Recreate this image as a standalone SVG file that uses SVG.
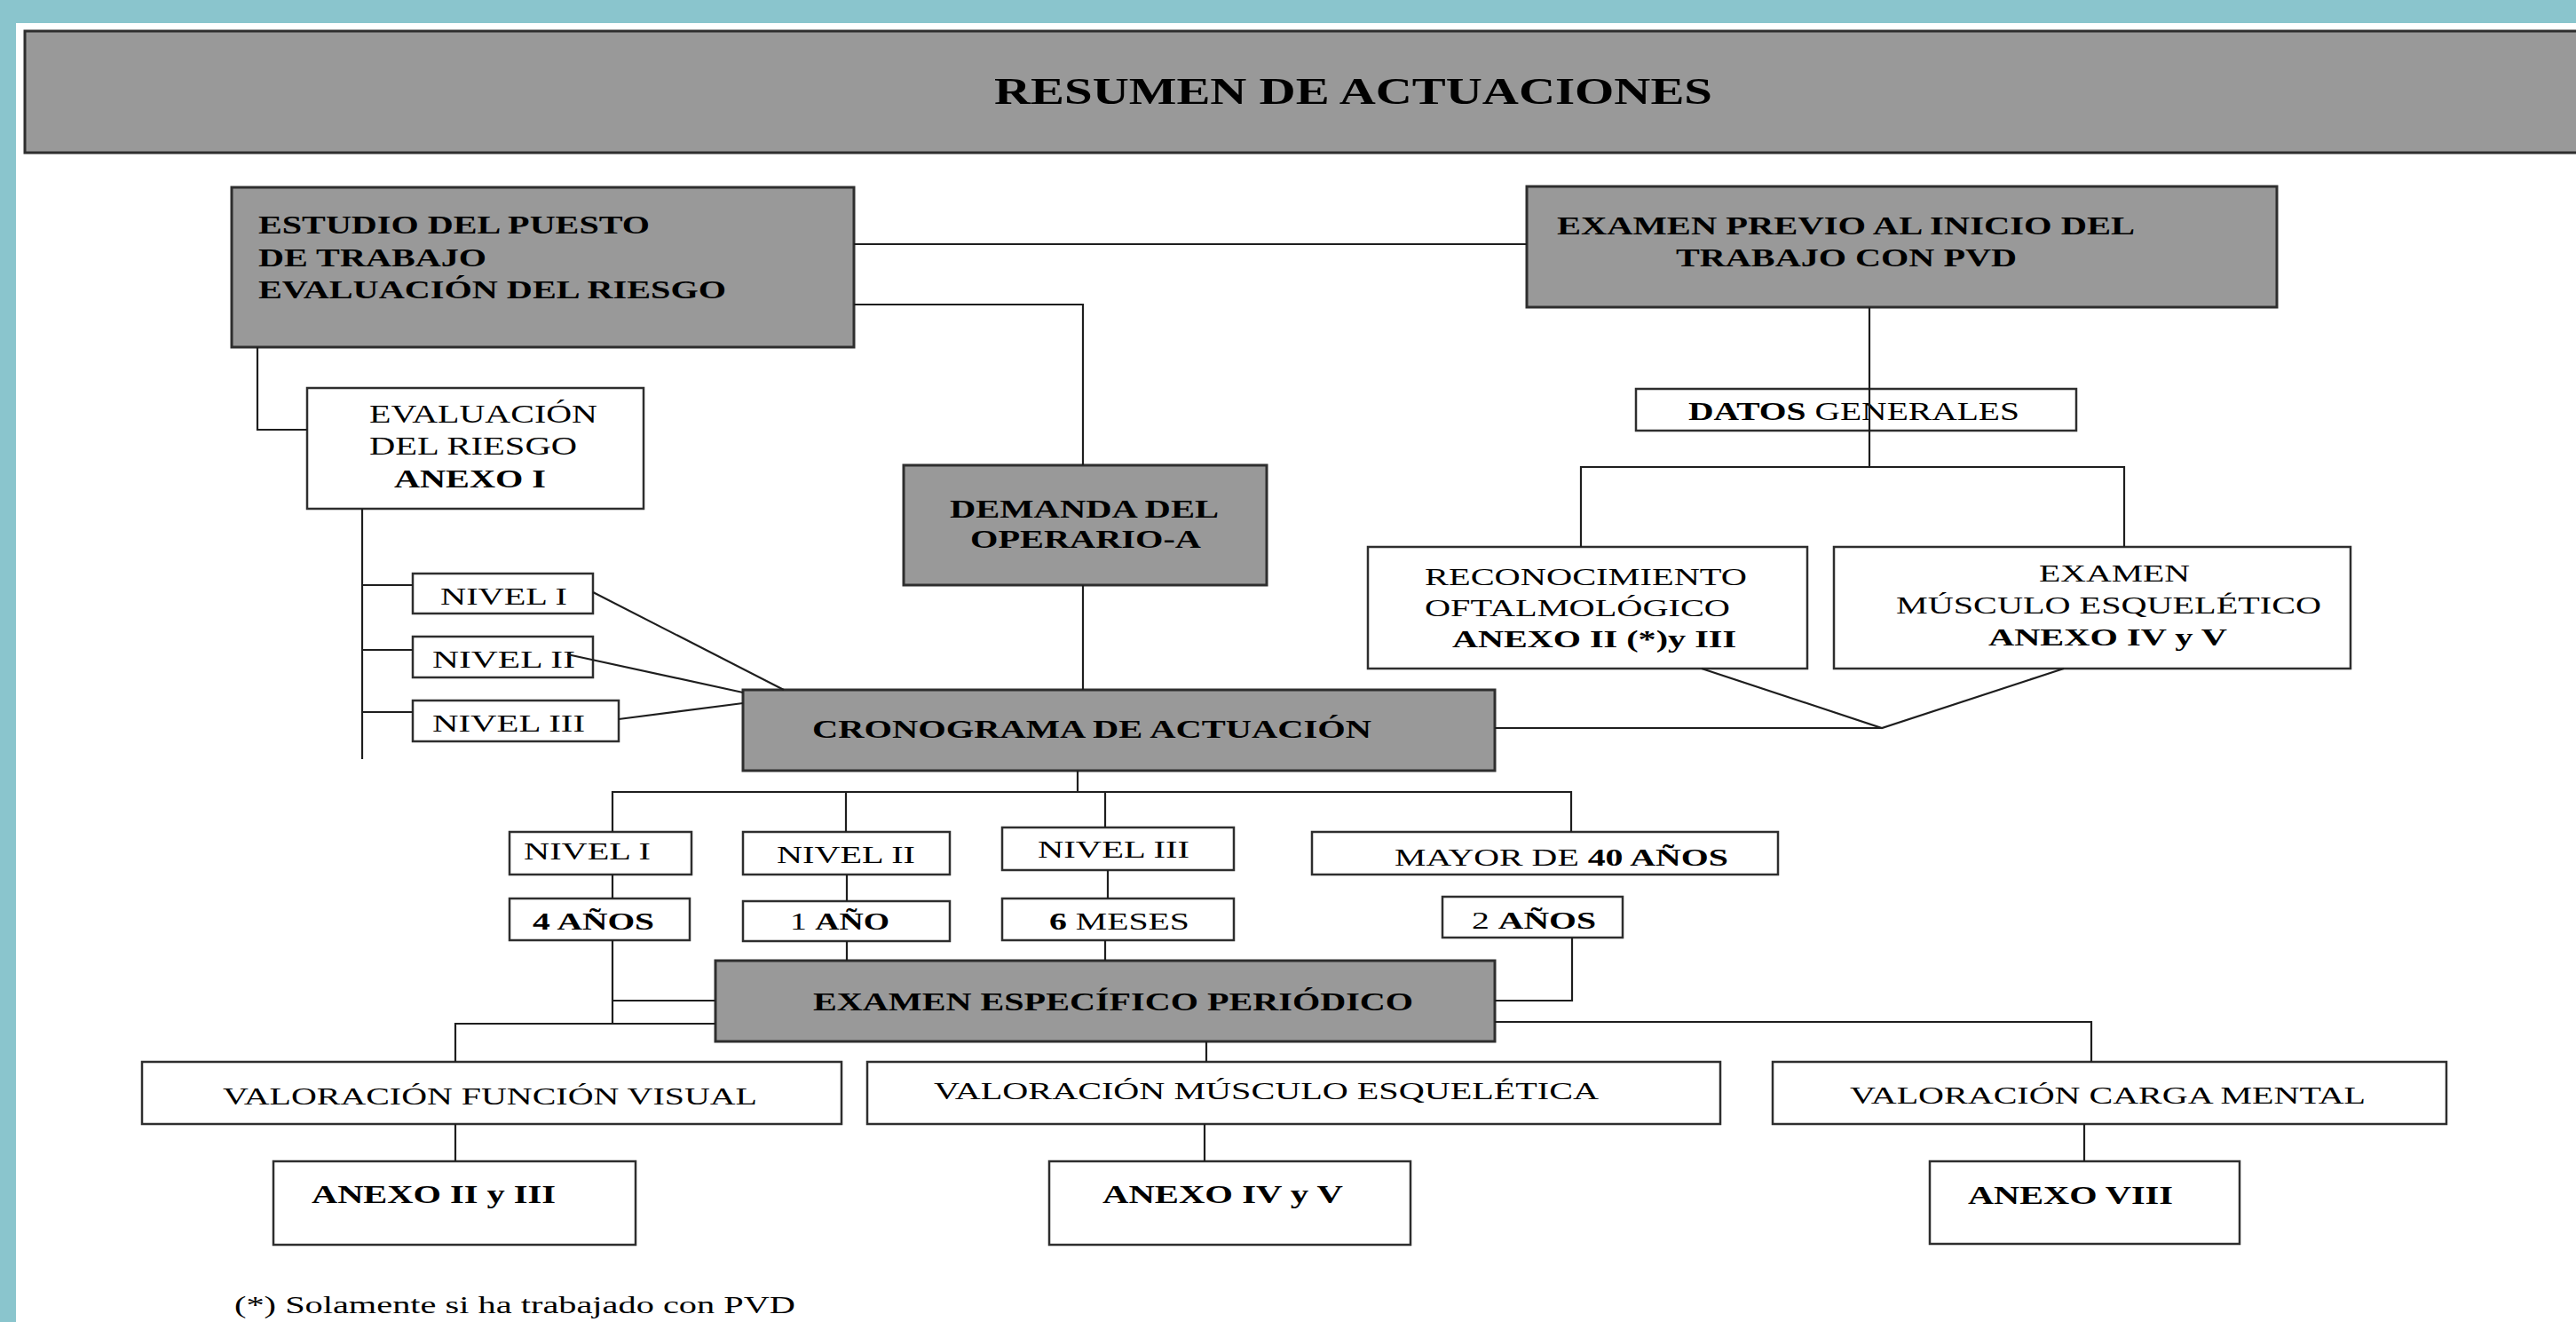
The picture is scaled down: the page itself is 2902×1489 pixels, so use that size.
<svg xmlns="http://www.w3.org/2000/svg" width="2902" height="1489" viewBox="0 0 2902 1489">
<style>
.g{fill:#999999;stroke:#2e2e2e;stroke-width:3}
.w{fill:#ffffff;stroke:#2e2e2e;stroke-width:2.5}
.c{fill:none;stroke:#1e1e1e;stroke-width:2.2}
text{font-family:"Liberation Serif","Times New Roman",serif;fill:#000}
.b{font-weight:bold}
.f27{font-size:28px}
.f30{font-size:30px}
</style>
<rect x="0" y="0" width="2902" height="1489" fill="#8ac5cd"/>
<rect x="18" y="26" width="2884" height="1463" fill="#ffffff"/>
<g id="title">
<rect x="28" y="35" width="2890" height="137" class="g"/>
<text x="1120" y="117" font-size="42" class="b" textLength="809" lengthAdjust="spacingAndGlyphs">RESUMEN DE ACTUACIONES</text>
</g>
<g id="estudio">
<rect x="261" y="211" width="701" height="180" class="g"/>
<text x="291" y="263" font-size="29" class="b" textLength="441" lengthAdjust="spacingAndGlyphs">ESTUDIO DEL PUESTO</text>
<text x="291" y="300" font-size="29" class="b" textLength="257" lengthAdjust="spacingAndGlyphs">DE TRABAJO</text>
<text x="291" y="336" font-size="29" class="b" textLength="527" lengthAdjust="spacingAndGlyphs">EVALUACIÓN DEL RIESGO</text>
</g>
<g id="examen-previo">
<rect x="1720" y="210" width="845" height="136" class="g"/>
<text x="1754" y="264" class="f30 b" textLength="651" lengthAdjust="spacingAndGlyphs">EXAMEN PREVIO AL INICIO DEL</text>
<text x="1888" y="300" class="f30 b" textLength="384" lengthAdjust="spacingAndGlyphs">TRABAJO CON PVD</text>
</g>
<g id="evaluacion">
<rect x="346" y="437" width="379" height="136" class="w"/>
<text x="416" y="476" font-size="29" textLength="257" lengthAdjust="spacingAndGlyphs">EVALUACIÓN</text>
<text x="416" y="512" font-size="29" textLength="234" lengthAdjust="spacingAndGlyphs">DEL RIESGO</text>
<text x="444" y="549" font-size="29" class="b" textLength="171" lengthAdjust="spacingAndGlyphs">ANEXO I</text>
</g>
<g id="demanda">
<rect x="1018" y="524" width="409" height="135" class="g"/>
<text x="1070" y="583" class="f30 b" textLength="303" lengthAdjust="spacingAndGlyphs">DEMANDA DEL</text>
<text x="1093" y="617" class="f30 b" textLength="260" lengthAdjust="spacingAndGlyphs">OPERARIO-A</text>
</g>
<g id="datos">
<rect x="1843" y="438" width="496" height="47" class="w"/>
<text x="1902" y="473" class="f30" textLength="373" lengthAdjust="spacingAndGlyphs"><tspan class="b">DATOS</tspan> GENERALES</text>
</g>
<g id="reconocimiento">
<rect x="1541" y="616" width="495" height="137" class="w"/>
<text x="1605" y="659" class="f27" textLength="363" lengthAdjust="spacingAndGlyphs">RECONOCIMIENTO</text>
<text x="1605" y="694" class="f27" textLength="344" lengthAdjust="spacingAndGlyphs">OFTALMOLÓGICO</text>
<text x="1636" y="729" class="f27 b" textLength="320" lengthAdjust="spacingAndGlyphs">ANEXO II (*)y III</text>
</g>
<g id="examen-musculo">
<rect x="2066" y="616" width="582" height="137" class="w"/>
<text x="2297" y="655" class="f27" textLength="170" lengthAdjust="spacingAndGlyphs">EXAMEN</text>
<text x="2136" y="691" class="f27" textLength="479" lengthAdjust="spacingAndGlyphs">MÚSCULO ESQUELÉTICO</text>
<text x="2240" y="727" class="f27 b" textLength="269" lengthAdjust="spacingAndGlyphs">ANEXO IV y V</text>
</g>
<g id="riesgo-nivel-1">
<rect x="465" y="646" width="203" height="45" class="w"/>
<text x="496" y="681" class="f27" textLength="143" lengthAdjust="spacingAndGlyphs">NIVEL I</text>
</g>
<g id="riesgo-nivel-2">
<rect x="465" y="717" width="203" height="46" class="w"/>
<text x="487" y="752" class="f27" textLength="161" lengthAdjust="spacingAndGlyphs">NIVEL II</text>
</g>
<g id="riesgo-nivel-3">
<rect x="465" y="789" width="232" height="46" class="w"/>
<text x="487" y="824" class="f27" textLength="172" lengthAdjust="spacingAndGlyphs">NIVEL III</text>
</g>
<g id="cronograma">
<rect x="837" y="777" width="847" height="91" class="g"/>
<text x="915" y="831" class="f30 b" textLength="630" lengthAdjust="spacingAndGlyphs">CRONOGRAMA DE ACTUACIÓN</text>
</g>
<g id="nivel-1">
<rect x="574" y="937" width="205" height="48" class="w"/>
<text x="590" y="968" class="f27" textLength="143" lengthAdjust="spacingAndGlyphs">NIVEL I</text>
</g>
<g id="nivel-2">
<rect x="837" y="937" width="233" height="48" class="w"/>
<text x="875" y="972" class="f27" textLength="156" lengthAdjust="spacingAndGlyphs">NIVEL II</text>
</g>
<g id="nivel-3">
<rect x="1129" y="932" width="261" height="48" class="w"/>
<text x="1169" y="966" class="f27" textLength="171" lengthAdjust="spacingAndGlyphs">NIVEL III</text>
</g>
<g id="mayor-40">
<rect x="1478" y="937" width="525" height="48" class="w"/>
<text x="1571" y="975" class="f27" textLength="376" lengthAdjust="spacingAndGlyphs">MAYOR DE <tspan class="b">40 AÑOS</tspan></text>
</g>
<g id="cuatro-anos">
<rect x="574" y="1012" width="203" height="47" class="w"/>
<text x="600" y="1047" class="f27 b" textLength="137" lengthAdjust="spacingAndGlyphs">4 AÑOS</text>
</g>
<g id="un-ano">
<rect x="837" y="1015" width="233" height="45" class="w"/>
<text x="890" y="1047" class="f27" textLength="112" lengthAdjust="spacingAndGlyphs">1 <tspan class="b">AÑO</tspan></text>
</g>
<g id="seis-meses">
<rect x="1129" y="1012" width="261" height="47" class="w"/>
<text x="1182" y="1047" class="f27" textLength="158" lengthAdjust="spacingAndGlyphs"><tspan class="b">6</tspan> MESES</text>
</g>
<g id="dos-anos">
<rect x="1625" y="1010" width="203" height="46" class="w"/>
<text x="1658" y="1046" class="f27" textLength="140" lengthAdjust="spacingAndGlyphs">2 <tspan class="b">AÑOS</tspan></text>
</g>
<g id="examen-especifico">
<rect x="806" y="1082" width="878" height="91" class="g"/>
<text x="916" y="1138" class="f30 b" textLength="676" lengthAdjust="spacingAndGlyphs">EXAMEN ESPECÍFICO PERIÓDICO</text>
</g>
<g id="val-visual">
<rect x="160" y="1196" width="788" height="70" class="w"/>
<text x="251" y="1244" class="f27" textLength="602" lengthAdjust="spacingAndGlyphs">VALORACIÓN FUNCIÓN VISUAL</text>
</g>
<g id="val-musculo">
<rect x="977" y="1196" width="961" height="70" class="w"/>
<text x="1052" y="1238" class="f27" textLength="749" lengthAdjust="spacingAndGlyphs">VALORACIÓN MÚSCULO ESQUELÉTICA</text>
</g>
<g id="val-carga">
<rect x="1997" y="1196" width="759" height="70" class="w"/>
<text x="2084" y="1243" class="f27" textLength="581" lengthAdjust="spacingAndGlyphs">VALORACIÓN CARGA MENTAL</text>
</g>
<g id="anexo-2-3">
<rect x="308" y="1308" width="408" height="94" class="w"/>
<text x="351" y="1355" class="f30 b" textLength="275" lengthAdjust="spacingAndGlyphs">ANEXO II y III</text>
</g>
<g id="anexo-4-5">
<rect x="1182" y="1308" width="407" height="94" class="w"/>
<text x="1242" y="1355" class="f30 b" textLength="271" lengthAdjust="spacingAndGlyphs">ANEXO IV y V</text>
</g>
<g id="anexo-8">
<rect x="2174" y="1308" width="349" height="93" class="w"/>
<text x="2217" y="1356" class="f30 b" textLength="231" lengthAdjust="spacingAndGlyphs">ANEXO VIII</text>
</g>
<text id="footnote" x="264" y="1479" font-size="27" textLength="632" lengthAdjust="spacingAndGlyphs">(*) Solamente si ha trabajado con PVD</text>
<g id="connectors" class="c">
<path class="c" d="M962 275 H1720"/>
<path class="c" d="M962 343 H1220 V524"/>
<path class="c" d="M290 391 V484 H346"/>
<path class="c" d="M408 573 V855"/>
<path class="c" d="M408 659 H465 M408 732 H465 M408 802 H465"/>
<path class="c" d="M668 667 L883 777 M639 737 L837 780 M697 810 L837 792"/>
<path class="c" d="M1220 659 V777"/>
<path class="c" d="M1684 820 H2120 M1917 753 L2120 820 L2325 753"/>
<path class="c" d="M2106 346 V526"/>
<path class="c" d="M1781 616 V526 H2393 V616"/>
<path class="c" d="M1214 868 V892 M690 937 V892 H1770 V937 M953 892 V937 M1245 892 V932"/>
<path class="c" d="M690 985 V1012 M954 985 V1015 M1248 980 V1012"/>
<path class="c" d="M690 1059 V1153 M690 1127 H806"/>
<path class="c" d="M954 1060 V1082 M1245 1059 V1082"/>
<path class="c" d="M1771 1056 V1127 H1684"/>
<path class="c" d="M513 1196 V1153 H806 M1684 1151 H2356 V1196 M1359 1173 V1196"/>
<path class="c" d="M513 1266 V1308 M1357 1266 V1308 M2348 1266 V1308"/>
</g>
</svg>
